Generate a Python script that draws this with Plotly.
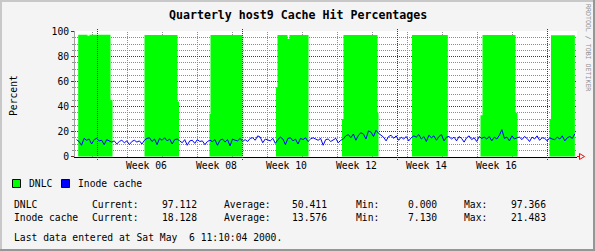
import plotly.graph_objects as go
import numpy as np

W, H = 595, 251
L, R, T, B = 75, 18, 31, 94
PW, PH = W - L - R, H - T - B

# time unit: days since 2000-01-01 00:00
dnlc_t = [27.14, 29.0, 29.4, 33.6, 34.0, 40.4, 47.0, 47.3, 53.4, 53.6, 60.0,
          66.7, 67.0, 69.0, 69.4, 73.2, 79.9, 80.2, 87.0, 87.2, 93.9, 101.06,
          107.6, 108.0, 114.6, 115.0, 121.4, 121.7, 126.47]
dnlc_v = [97.4, 96.6, 97.4, 45.0, 0.0, 97.2, 44.0, 0.0, 34.0, 97.3, 0.0,
          55.5, 97.2, 94.0, 97.2, 0.0, 30.0, 97.3, 35.0, 0.0, 97.2, 0.0,
          33.0, 97.3, 35.0, 0.0, 30.0, 97.1, 97.1]

inode_v = [
    13.5, 12.0, 9.0, 14.5, 13.0, 14.0, 10.0, 13.5, 14.5, 12.5, 13.0, 9.5, 13.5, 12.5,
    11.5, 12.5, 10.0, 12.0, 13.0, 11.0, 12.5, 9.5, 12.0, 13.0, 11.5, 12.5, 10.0, 13.0,
    14.5, 15.0, 12.0, 14.0, 9.5, 14.5, 13.0, 15.0, 12.5, 14.0, 10.0, 13.5, 14.0,
    12.5, 11.0, 13.5, 9.0, 12.5, 13.0, 10.5, 13.5, 12.0, 12.5, 9.5, 12.0, 13.0,
    12.0, 13.5, 9.0, 13.0, 14.0, 11.5, 13.5, 8.5, 14.0, 13.0, 12.5, 14.5, 12.0,
    13.5, 12.0, 14.5, 15.0, 13.0, 16.5, 15.5, 11.0, 14.0, 13.5, 12.5, 14.5, 10.5, 13.5,
    15.5, 14.0, 9.5, 14.5, 15.0, 12.5, 14.0, 10.0, 14.5, 13.5, 15.0, 12.0, 14.0,
    15.0, 14.0, 13.0, 14.5, 9.0, 13.5, 14.0, 12.0, 13.5, 14.5, 11.0, 13.0, 14.0,
    16.5, 17.5, 15.0, 18.0, 13.0, 17.0, 19.0, 18.0, 14.0, 20.5, 19.5, 16.0, 21.0, 18.5,
    17.0, 15.5, 12.5, 16.0, 17.0, 14.5, 16.5, 13.0, 15.5, 14.0, 16.0, 12.5, 15.0, 16.5,
    15.5, 17.5, 14.0, 16.0, 12.0, 17.0, 15.0, 16.5, 13.0, 16.0, 17.5, 12.5, 15.5, 16.0,
    14.0, 15.5, 12.5, 16.0, 14.5, 11.5, 15.0, 16.5, 13.5, 15.0, 12.0, 16.0, 14.5, 15.5,
    14.0, 16.0, 12.5, 15.5, 14.0, 17.0, 21.5, 14.5, 15.5, 12.5, 16.5, 14.0, 15.0,
    15.5, 13.5, 16.0, 14.5, 12.0, 15.5, 14.0, 16.5, 13.0, 15.0, 14.5, 12.5, 15.0, 14.0,
    13.5, 15.5, 14.0, 16.5, 12.5, 15.0, 16.0, 14.5, 18.1,
]
inode_t = np.linspace(26.8, 126.47, len(inode_v))

week_mondays = [30, 37, 44, 51, 58, 65, 72, 79, 86, 93, 100, 107, 114, 121]
month_starts = [31, 60, 91, 121]
week_label_t = [40.5, 54.5, 68.5, 82.5, 96.5, 110.5]
week_labels = ["Week 06", "Week 08", "Week 10", "Week 12", "Week 14", "Week 16"]

stats_rows = [
    ["DNLC", "97.112", "50.411", "0.000", "97.366"],
    ["Inode cache", "18.128", "13.576", "7.130", "21.483"],
]

X0, X1 = 26.5, 26.5 + PW / 5.0
MONO = "DejaVu Sans Mono"
GRID = "#8c8c8c"
MGRID = "#821e1e"


def px(x):
    return (x - L) / PW


def py(y):
    return (H - B - y) / PH


fig = go.Figure()
fig.add_trace(go.Scatter(x=dnlc_t, y=dnlc_v, mode="lines", line=dict(width=0, shape="hv"),
                         fill="tozeroy", fillcolor="#00ff00", hoverinfo="skip", showlegend=False))
fig.add_trace(go.Scatter(x=inode_t, y=inode_v, mode="lines", line=dict(width=1, color="#0000ff"),
                         hoverinfo="skip", showlegend=False))

shapes = []
for t in week_mondays:
    if t not in month_starts:
        shapes.append(dict(type="line", xref="x", yref="paper", x0=t, x1=t, y0=0, y1=1,
                           line=dict(color=GRID, width=1, dash="1px,1px"), layer="below"))
for t in month_starts:
    shapes.append(dict(type="line", xref="x", yref="paper", x0=t, x1=t, y0=py(160), y1=py(28.5),
                       line=dict(color=MGRID, width=1, dash="1px,1px"), layer="above"))

# arrow at end of x axis
shapes.append(dict(type="path", xref="paper", yref="paper",
                   path=f"M {px(577)} {py(156.5)} L {px(579.5)} {py(156.5)} M {px(579.5)} {py(153.5)} L {px(584.5)} {py(156.5)} L {px(579.5)} {py(159.5)} Z",
                   line=dict(color="#ff0000", width=1), layer="above"))

# legend boxes
for x0, col in [(12.5, "#00ff00"), (61.5, "#0000ff")]:
    shapes.append(dict(type="rect", xref="paper", yref="paper", x0=px(x0), x1=px(x0 + 8),
                       y0=py(187.5), y1=py(179.5), fillcolor=col, line=dict(color="#000000", width=1)))

# frame (3D border)
shapes += [
    dict(type="rect", xref="paper", yref="paper", x0=px(0), x1=px(W), y0=py(0), y1=py(2),
         fillcolor="#c8c8c8", line=dict(width=0)),
    dict(type="rect", xref="paper", yref="paper", x0=px(0), x1=px(2), y0=py(0), y1=py(H),
         fillcolor="#c8c8c8", line=dict(width=0)),
    dict(type="rect", xref="paper", yref="paper", x0=px(0), x1=px(W), y0=py(H - 2), y1=py(H),
         fillcolor="#969696", line=dict(width=0)),
    dict(type="rect", xref="paper", yref="paper", x0=px(W - 2), x1=px(W), y0=py(0), y1=py(H),
         fillcolor="#969696", line=dict(width=0)),
]

ann = []
F = dict(family=MONO, size=9.7, color="#000000")
ann.append(dict(text="Quarterly host9 Cache Hit Percentages", xref="paper", yref="paper",
                x=px(297.5), y=py(15), showarrow=False, xanchor="center", yanchor="middle",
                font=dict(family=MONO, size=11.6, color="#000000", weight="bold")))
ann.append(dict(text="Percent", xref="paper", yref="paper", x=px(13), y=py(96), textangle=-90,
                showarrow=False, xanchor="center", yanchor="middle", font=F))
ann.append(dict(text="RRDTOOL / TOBI OETIKER", xref="paper", yref="paper", x=px(588), y=py(47),
                textangle=90, showarrow=False, xanchor="center", yanchor="middle",
                font=dict(family=MONO, size=6.6, color="#909090")))
for t, lab in zip(week_label_t, week_labels):
    ann.append(dict(text=lab, xref="x", yref="paper", x=t, y=py(165), xshift=1.5, showarrow=False,
                    xanchor="center", yanchor="middle", font=F))
ann.append(dict(text="DNLC", xref="paper", yref="paper", x=px(26.5), y=py(183.5), showarrow=False,
                xanchor="left", yanchor="middle", font=F))
ann.append(dict(text="Inode cache", xref="paper", yref="paper", x=px(75.5), y=py(183.5), showarrow=False,
                xanchor="left", yanchor="middle", font=F))
for row, yy in zip(stats_rows, [204.5, 217.5]):
    name, cur, avg, mn, mx = row
    items = [(12, name, "left"), (90, "Current:", "left"), (198.5, cur, "right"),
             (222, "Average:", "left"), (328.5, avg, "right"), (354, "Min:", "left"),
             (438.5, mn, "right"), (462, "Max:", "left"), (547.5, mx, "right")]
    for xx, s, anc in items:
        ann.append(dict(text=s, xref="paper", yref="paper", x=px(xx), y=py(yy), showarrow=False,
                        xanchor=anc, yanchor="middle", font=F))
ann.append(dict(text="Last data entered at Sat May  6 11:10:04 2000.", xref="paper", yref="paper",
                x=px(12), y=py(237), showarrow=False, xanchor="left", yanchor="middle",
                font=F))

fig.update_layout(
    width=W, height=H, autosize=False,
    margin=dict(l=L, r=R, t=T, b=B, pad=0),
    paper_bgcolor="#f4f4f4", plot_bgcolor="#ffffff",
    shapes=shapes, annotations=ann, showlegend=False,
    xaxis=dict(range=[X0, X1], showgrid=False, zeroline=False, showticklabels=False, ticks="",
               showline=True, linecolor="#000000", linewidth=1, fixedrange=True),
    yaxis=dict(range=[-0.4, 100.4], tickvals=[0, 20, 40, 60, 80, 100], showgrid=True,
               gridcolor=MGRID, griddash="1px,1px", gridwidth=1, zeroline=False,
               ticks="outside", ticklen=3, tickcolor=MGRID, showline=True, linecolor="#a0a0a0",
               tickfont=dict(family=MONO, size=9.7, color="#000000"),
               minor=dict(dtick=5, showgrid=True, gridcolor=GRID, griddash="1px,1px", gridwidth=1,
                          ticks="outside", ticklen=2, tickcolor=GRID),
               fixedrange=True),
)

fig.write_html("out.html")
